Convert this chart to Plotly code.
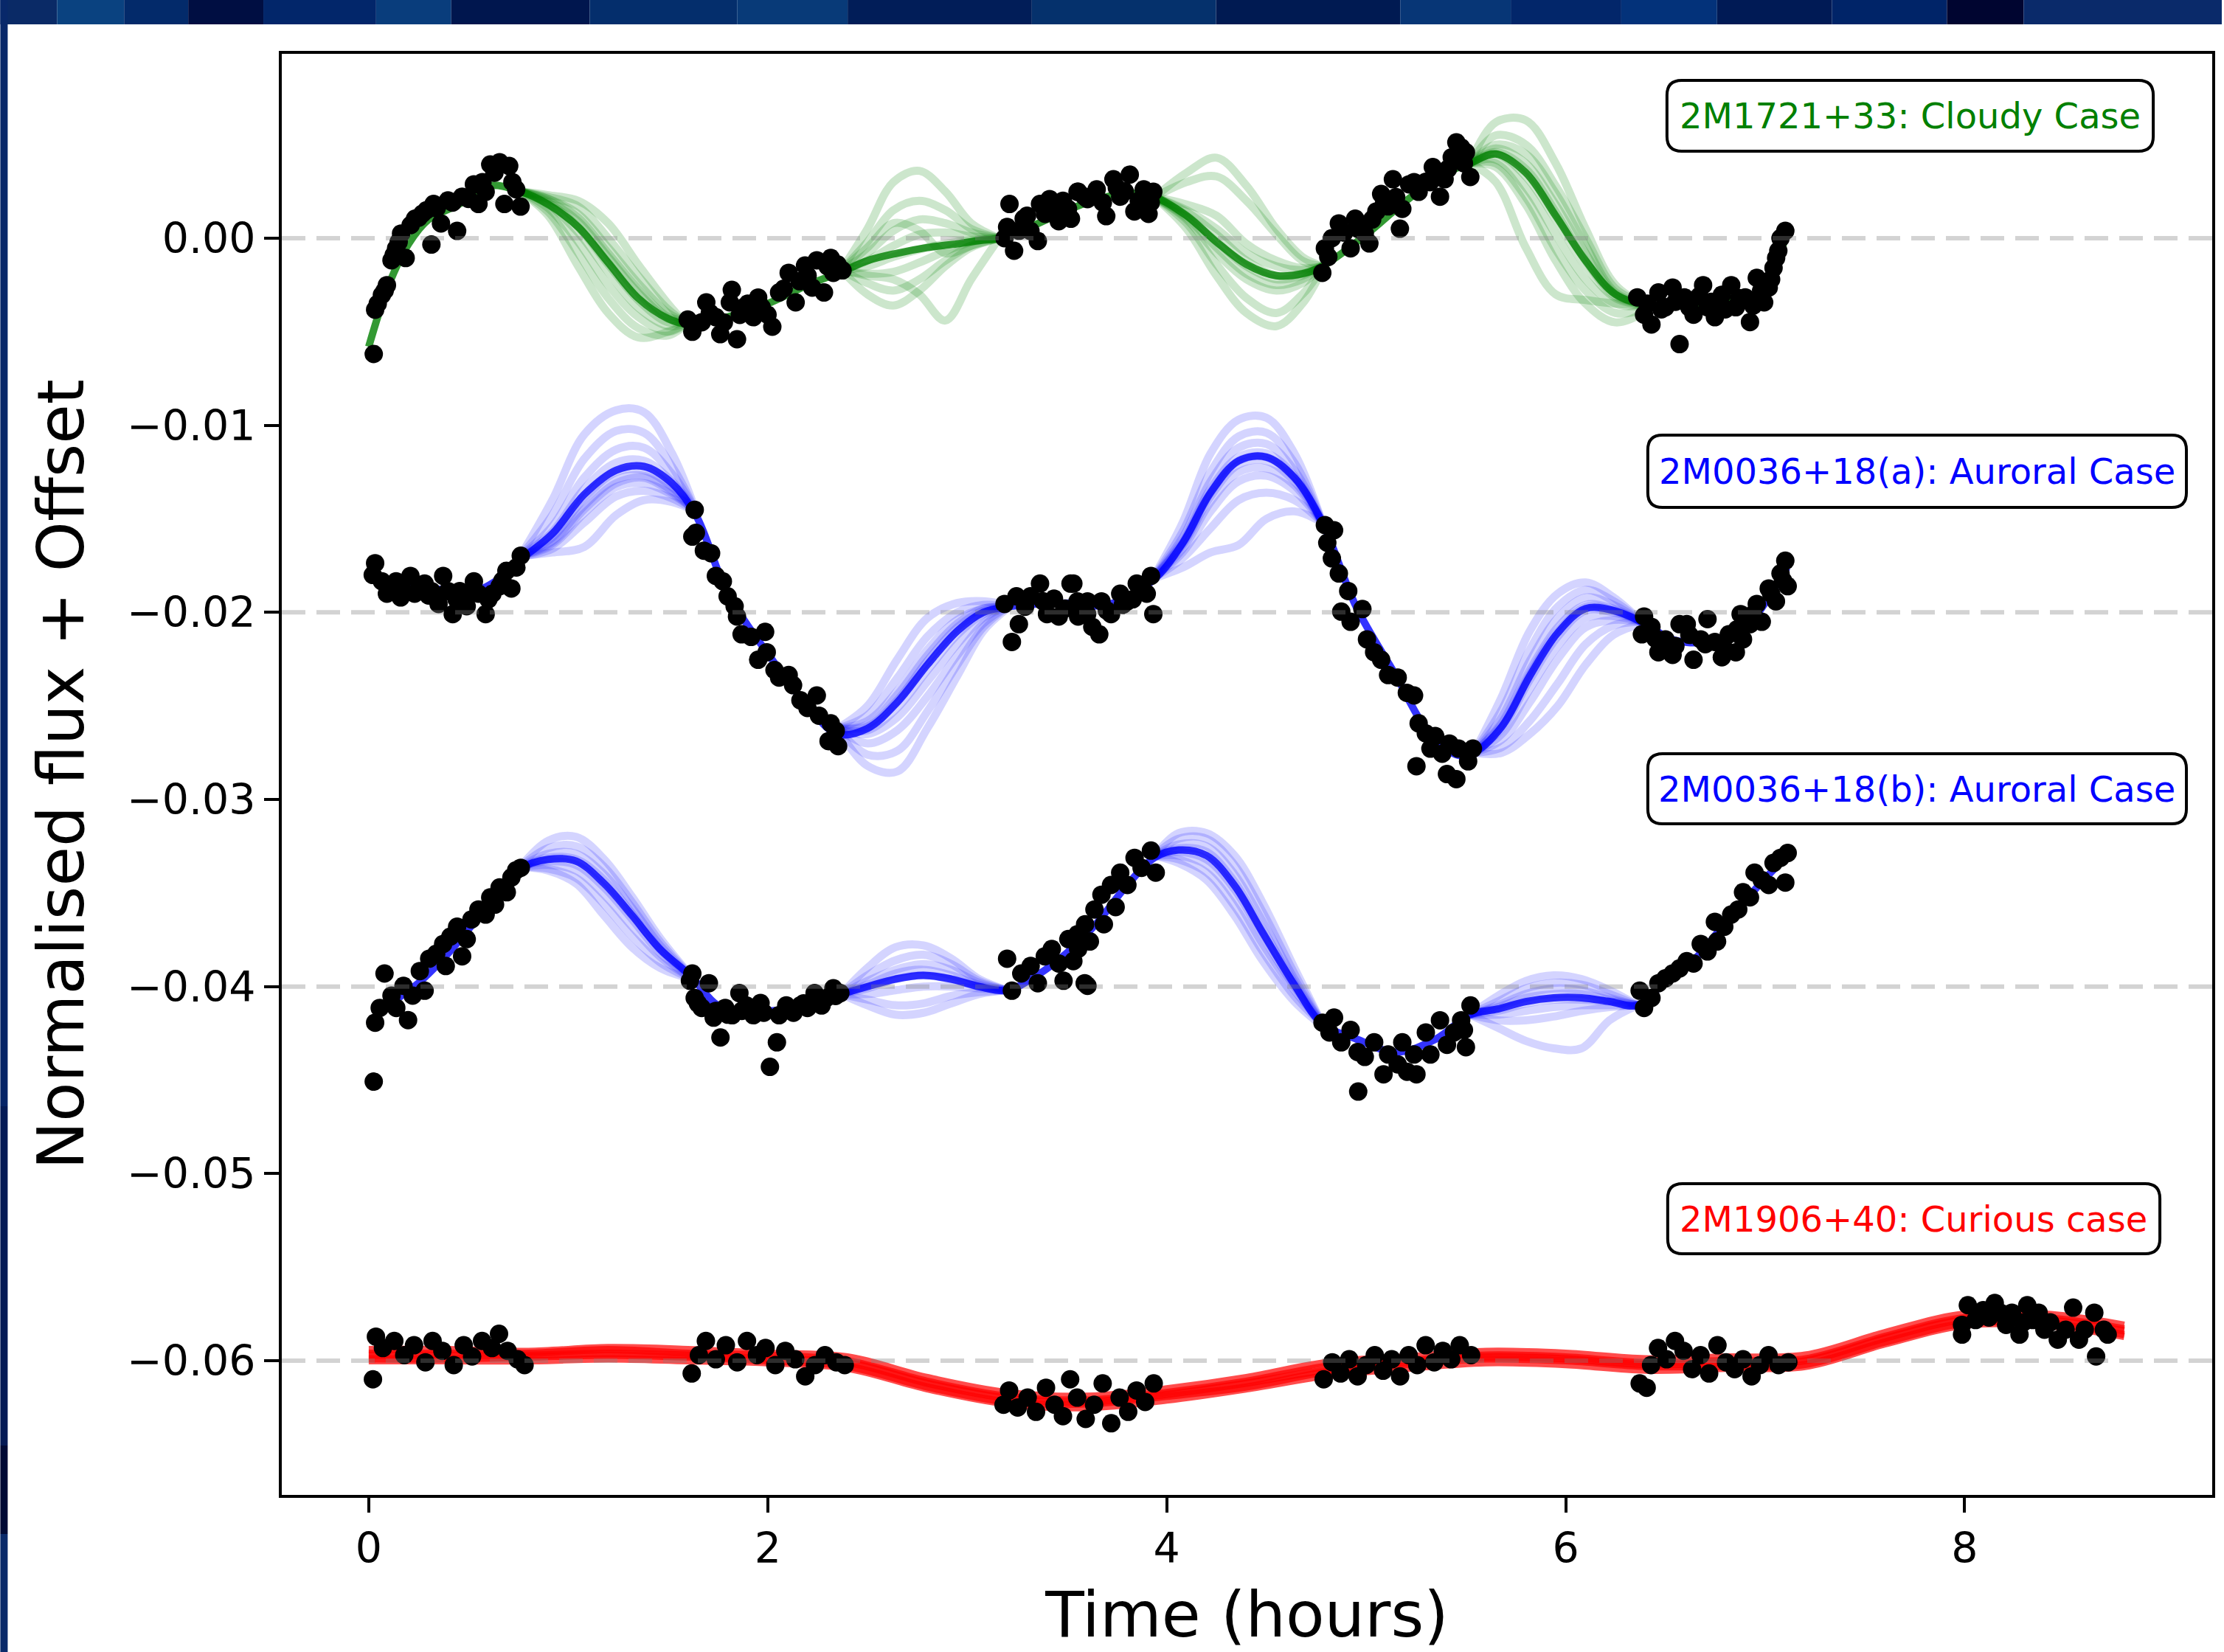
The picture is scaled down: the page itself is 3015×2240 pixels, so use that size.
import plotly.graph_objects as go

# ---------------------------------------------------------------- text / ticks
X_TICKS = [0, 2, 4, 6, 8]
X_TICKTEXT = ["0", "2", "4", "6", "8"]
Y_TICKS = [0.0, -0.01, -0.02, -0.03, -0.04, -0.05, -0.06]
Y_TICKTEXT = ["0.00", "\u22120.01", "\u22120.02", "\u22120.03", "\u22120.04", "\u22120.05", "\u22120.06"]
X_TITLE = "Time (hours)"
Y_TITLE = "Normalised flux + Offset"
OFFSETS = [0.0, -0.02, -0.04, -0.06]
LABELS = ["2M1721+33: Cloudy Case", "2M0036+18(a): Auroral Case",
          "2M0036+18(b): Auroral Case", "2M1906+40: Curious case"]

# ---------------------------------------------------------------- observed points
GREEN_T = [0.025, 0.032, 0.066, 0.091, 0.114, 0.137, 0.162, 0.185, 0.232, 0.268, 0.314, 0.325, 0.362, 0.397,
           0.443, 0.468, 0.527, 0.55, 0.586, 0.609, 0.656, 0.704, 0.68, 0.739, 0.761,
           0.045, 0.08, 0.125, 0.15, 0.21, 0.25, 0.29, 0.34, 0.42, 0.5, 0.57, 0.63, 0.72,
           1.599, 1.622, 1.669, 1.692, 1.74, 1.762, 1.81, 1.82, 1.846, 1.88, 1.928, 1.952, 1.999, 2.023, 2.057,
           2.105, 2.14, 2.187, 2.223, 2.246, 2.282, 2.316, 2.329, 2.375,
           1.64, 1.71, 1.78, 1.86, 1.9, 1.97, 2.08, 2.16, 2.2, 2.3, 2.35,
           3.187, 3.212, 3.235, 3.283, 3.317, 3.354, 3.365, 3.413, 3.459, 3.505, 3.553, 3.589, 3.52, 3.556,
           3.603, 3.649, 3.697, 3.733, 3.767, 3.815, 3.838, 3.885, 3.909, 3.933,
           3.2, 3.26, 3.3, 3.39, 3.44, 3.48, 3.62, 3.68, 3.75, 3.79, 3.86, 3.92,
           4.78, 4.793, 4.828, 4.863, 4.922, 4.945, 4.993, 5.016, 5.051, 5.075, 5.11, 5.134, 5.169, 5.181,
           5.215, 5.263, 5.299, 5.334, 5.37, 5.393, 5.429, 5.452, 5.476, 5.5, 5.522,
           4.81, 4.89, 4.96, 5.03, 5.09, 5.15, 5.24, 5.32, 5.41, 5.49,
           6.359, 6.393, 6.43, 6.465, 6.5, 6.536, 6.571, 6.595, 6.641, 6.689, 6.711, 6.748, 6.783, 6.83,
           6.853, 6.9, 6.924, 6.958, 6.995, 7.018, 7.042, 7.066, 7.077, 7.101, 7.055,
           6.41, 6.48, 6.55, 6.62, 6.67, 6.73, 6.8, 6.87, 6.94, 6.98, 7.03]
GREEN_F = [-0.00619, -0.00382, -0.00303, -0.00251, -0.00118, -0.00055, 0.00025, -0.00106, 0.00104, 0.0013,
           -0.00034, 0.00183, 0.00079, 0.00202, 0.00039, 0.00222, 0.00288, 0.00183, 0.00248, 0.00394, 0.00406,
           0.00386, 0.00183, 0.00261, 0.00169,
           -0.0035, -0.0028, -0.0009, -0.0002, 0.0007, 0.0011, 0.0015, 0.0016, 0.0019, 0.0021, 0.0030, 0.0035, 0.0030,
           -0.00435, -0.005, -0.00449, -0.00343, -0.00422, -0.00513, -0.00343, -0.00276, -0.0054, -0.00369,
           -0.00422, -0.00317, -0.00409, -0.00473, -0.0029, -0.00185, -0.00343, -0.00146, -0.00264, -0.00118,
           -0.0029, -0.00106, -0.00185, -0.00172,
           -0.0046, -0.0040, -0.0045, -0.0041, -0.0035, -0.0037, -0.0027, -0.0023, -0.0020, -0.0015, -0.0014,
           0.0, 0.00183, -0.00067, 0.00104, 0.00039, -0.00015, 0.00183, 0.00209, 0.00091, 0.00157, 0.00248,
           0.00222, 0.00104, 0.00248, 0.00209, 0.00261, 0.00118, 0.00315, 0.00222, 0.0034, 0.00143, 0.00261,
           0.0013, 0.00248,
           0.0006, 0.0004, 0.0012, 0.0013, 0.0017, 0.0020, 0.0022, 0.0019, 0.0027, 0.0025, 0.0020, 0.0019,
           -0.00185, -0.00054, 0.0, 0.00079, -0.00054, 0.00104, 0.00025, -0.00028, 0.00143, 0.00236, 0.0017,
           0.00315, 0.00051, 0.00157, 0.00288, 0.00248, 0.00301, 0.0038, 0.00222, 0.00315, 0.00433, 0.00512,
           0.00485, 0.00459, 0.00327,
           -0.0010, 0.0003, 0.0005, 0.0010, 0.0019, 0.0022, 0.0030, 0.0030, 0.0037, 0.0040,
           -0.00316, -0.00409, -0.00461, -0.0029, -0.00369, -0.00264, -0.00566, -0.00316, -0.00409, -0.00251,
           -0.00369, -0.00422, -0.00303, -0.00251, -0.00369, -0.00316, -0.00448, -0.00212, -0.00343, -0.00264,
           -0.00159, -0.00067, 0.0, 0.00039, -0.00106,
           -0.0035, -0.0038, -0.0034, -0.0037, -0.0031, -0.0034, -0.0038, -0.0032, -0.0036, -0.0028, -0.0022]

BLUEA_T = [0.032, 0.066, 0.091, 0.137, 0.174, 0.209, 0.244, 0.28, 0.314, 0.35, 0.373, 0.397, 0.421, 0.456,
           0.491, 0.527, 0.55, 0.586, 0.62, 0.656, 0.69, 0.715, 0.762,
           0.02, 0.11, 0.16, 0.23, 0.3, 0.44, 0.51, 0.6, 0.67, 0.74,
           1.634, 1.64, 1.622, 1.68, 1.716, 1.74, 1.775, 1.799, 1.834, 1.846, 1.869, 1.917, 1.987, 1.952,
           1.995, 2.034, 2.057, 2.105, 2.127, 2.164, 2.199, 2.246, 2.257, 2.316, 2.305, 2.353, 2.341,
           3.187, 3.224, 3.247, 3.259, 3.317, 3.365, 3.4, 3.435, 3.459, 3.518, 3.553, 3.601, 3.532, 3.556,
           3.603, 3.627, 3.662, 3.673, 3.721, 3.767, 3.803, 3.85, 3.886, 3.921, 3.933,
           3.29, 3.38, 3.49, 3.58, 3.7, 3.78, 3.83, 3.9,
           4.793, 4.839, 4.805, 4.828, 4.863, 4.91, 4.875, 4.922, 4.981, 5.004, 5.04, 5.075, 5.11, 5.158,
           5.204, 5.24, 5.263, 5.299, 5.322, 5.346, 5.381, 5.252, 5.405, 5.452, 5.463, 5.511, 5.535, 5.417,
           6.393, 6.382, 6.43, 6.465, 6.5, 6.536, 6.571, 6.607, 6.641, 6.677, 6.711, 6.748, 6.783, 6.818,
           6.853, 6.889, 6.877, 6.924, 6.958, 6.983, 7.018, 7.054, 7.077, 7.113, 7.101,
           6.45, 6.55, 6.62, 6.7, 6.8, 6.86, 6.94, 7.03, 7.09]
BLUEA_F = [-0.01737, -0.01834, -0.019, -0.01834, -0.01886, -0.01805, -0.01886, -0.01846, -0.01886, -0.01955,
           -0.01805, -0.01886, -0.02009, -0.01886, -0.01967, -0.01834, -0.019, -0.02009, -0.019, -0.0186,
           -0.01778, -0.01872, -0.01697,
           -0.0180, -0.0187, -0.0192, -0.0190, -0.0191, -0.0193, -0.0190, -0.0193, -0.0183, -0.0176,
           -0.01452, -0.01575, -0.01595, -0.0167, -0.01684, -0.01805, -0.01834, -0.01914, -0.01967, -0.02022,
           -0.02117, -0.02131, -0.02104, -0.02253, -0.02213, -0.02308, -0.02348, -0.02335, -0.02389, -0.0247,
           -0.02511, -0.02444, -0.02552, -0.02593, -0.02688, -0.02715, -0.02633,
           -0.01955, -0.02158, -0.01914, -0.02063, -0.01914, -0.01846, -0.02009, -0.01927, -0.02022, -0.01846,
           -0.01941, -0.02009, -0.01846, -0.02022, -0.01941, -0.02077, -0.02117, -0.01941, -0.02009, -0.019,
           -0.01941, -0.01846, -0.01886, -0.01805, -0.02009,
           -0.0197, -0.0194, -0.0198, -0.0196, -0.0199, -0.0196, -0.0193, -0.0190,
           -0.01533, -0.01561, -0.01628, -0.01711, -0.01792, -0.01886, -0.01996, -0.0205, -0.01982, -0.02144,
           -0.02213, -0.02253, -0.02335, -0.02348, -0.0243, -0.02444, -0.02593, -0.02647, -0.02728, -0.02661,
           -0.02755, -0.02822, -0.02864, -0.02891, -0.02728, -0.02796, -0.02728, -0.02701,
           -0.02022, -0.02117, -0.02077, -0.02213, -0.02144, -0.02227, -0.02063, -0.02063, -0.02253, -0.02144,
           -0.02036, -0.02158, -0.0224, -0.02117, -0.02213, -0.02144, -0.02009, -0.02063, -0.01955, -0.0205,
           -0.01872, -0.01941, -0.01792, -0.0186, -0.01724,
           -0.0214, -0.0218, -0.0212, -0.0217, -0.0220, -0.0209, -0.0201, -0.0190, -0.0183]

BLUEB_T = [0.025, 0.032, 0.055, 0.079, 0.114, 0.138, 0.174, 0.197, 0.22, 0.256, 0.28, 0.303, 0.338, 0.386,
           0.373, 0.409, 0.443, 0.468, 0.491, 0.515, 0.55, 0.586, 0.609, 0.633, 0.656, 0.692, 0.715, 0.739, 0.762,
           1.622, 1.61, 1.634, 1.669, 1.705, 1.729, 1.763, 1.787, 1.822, 1.858, 1.893, 1.928, 1.964, 2.011,
           2.046, 2.057, 2.093, 2.129, 2.164, 2.199, 2.235, 2.27, 2.294, 2.329, 2.364,
           1.65, 1.74, 1.8, 1.87, 1.98, 2.11, 2.18, 2.25, 2.34,
           3.2, 3.224, 3.271, 3.318, 3.354, 3.389, 3.424, 3.459, 3.483, 3.507, 3.553, 3.589, 3.532, 3.556,
           3.603, 3.615, 3.591, 3.638, 3.685, 3.673, 3.721, 3.744, 3.767, 3.803, 3.839, 3.874, 3.921, 3.945,
           4.781, 4.816, 4.839, 4.875, 4.922, 4.957, 4.993, 5.04, 4.96, 5.087, 5.11, 5.158, 5.181, 5.205,
           5.252, 5.24, 5.299, 5.322, 5.37, 5.405, 5.44, 5.476, 5.5, 5.523, 5.49,
           6.371, 6.393, 6.43, 6.465, 6.5, 6.536, 6.571, 6.607, 6.641, 6.677, 6.711, 6.748, 6.759, 6.795,
           6.83, 6.865, 6.889, 6.924, 6.947, 6.983, 7.018, 7.042, 7.077, 7.101, 7.113]
BLUEB_F = [-0.04508, -0.04193, -0.04114, -0.0393, -0.04048, -0.04114, -0.03996, -0.04179, -0.04048, -0.03917,
           -0.04022, -0.03851, -0.03825, -0.0389, -0.03772, -0.03733, -0.0368, -0.03838, -0.03746, -0.03641,
           -0.03588, -0.03615, -0.03523, -0.03562, -0.0347, -0.03496, -0.03417, -0.03378, -0.03365,
           -0.0393, -0.03969, -0.04061, -0.04114, -0.03982, -0.04166, -0.04272, -0.04114, -0.04153, -0.04035,
           -0.04101, -0.04153, -0.04088, -0.04429, -0.04298, -0.04153, -0.04101, -0.0414, -0.04101, -0.04114,
           -0.04035, -0.04101, -0.04061, -0.04009, -0.04035,
           -0.0409, -0.0413, -0.0415, -0.0413, -0.0414, -0.0412, -0.0409, -0.0407, -0.0405,
           -0.03851, -0.04022, -0.0393, -0.0389, -0.03982, -0.03838, -0.03799, -0.03877, -0.03969, -0.03746,
           -0.0372, -0.03982, -0.03864, -0.03799, -0.03996, -0.03759, -0.03667, -0.03588, -0.03667, -0.03509,
           -0.03457, -0.03575, -0.03391, -0.03457, -0.03312, -0.03365, -0.03273, -0.03391,
           -0.04193, -0.04245, -0.04166, -0.04298, -0.04232, -0.0435, -0.04376, -0.04298, -0.04561, -0.04469,
           -0.04363, -0.04416, -0.04298, -0.04455, -0.04469, -0.04363, -0.04245, -0.04363, -0.0418, -0.04311,
           -0.04245, -0.0418, -0.04324, -0.04101, -0.04232,
           -0.04022, -0.04114, -0.04061, -0.03982, -0.03956, -0.0393, -0.03903, -0.03864, -0.03877, -0.03772,
           -0.03812, -0.03654, -0.03759, -0.0368, -0.03615, -0.03588, -0.03496, -0.03523, -0.03391, -0.0343,
           -0.03457, -0.03339, -0.03312, -0.03444, -0.03286]

RED_T = [0.021, 0.036, 0.071, 0.128, 0.178, 0.227, 0.284, 0.32, 0.369, 0.426, 0.476, 0.518, 0.568, 0.618,
         0.653, 0.696, 0.746, 0.781,
         1.619, 1.655, 1.69, 1.74, 1.79, 1.847, 1.896, 1.946, 1.989, 2.038, 2.088, 2.138, 2.188, 2.237,
         2.287, 2.344, 2.386,
         3.182, 3.21, 3.253, 3.303, 3.345, 3.395, 3.438, 3.48, 3.516, 3.551, 3.594, 3.636, 3.679, 3.722,
         3.764, 3.807, 3.849, 3.892, 3.935,
         4.787, 4.83, 4.872, 4.915, 4.957, 5.0, 5.043, 5.085, 5.128, 5.17, 5.213, 5.256, 5.298, 5.341,
         5.384, 5.426, 5.469, 5.526,
         6.371, 6.406, 6.428, 6.463, 6.506, 6.548, 6.591, 6.634, 6.676, 6.719, 6.761, 6.804, 6.847, 6.889,
         6.932, 6.974, 7.017, 7.067, 7.116,
         7.987, 8.016, 7.987, 8.055, 8.093, 8.122, 8.151, 8.179, 8.208, 8.237, 8.275, 8.314, 8.342, 8.371,
         8.4, 8.429, 8.467, 8.506, 8.544, 8.573, 8.602, 8.65, 8.659, 8.698, 8.717, 8.294]
RED_F = [-0.06099, -0.05871, -0.05932, -0.05894, -0.0597, -0.05917, -0.06008, -0.05894, -0.05947, -0.06023,
         -0.05917, -0.05977, -0.05894, -0.05932, -0.05856, -0.05947, -0.05992, -0.06023,
         -0.06068, -0.0597, -0.05894, -0.05992, -0.05917, -0.06008, -0.05894, -0.0597, -0.05932, -0.06023,
         -0.05947, -0.05992, -0.06083, -0.06023, -0.0597, -0.06008, -0.06023,
         -0.06235, -0.06159, -0.0625, -0.06197, -0.06273, -0.06144, -0.06235, -0.06296, -0.06099, -0.06197,
         -0.06311, -0.06235, -0.06121, -0.06334, -0.06197, -0.06273, -0.06159, -0.0622, -0.06121,
         -0.06099, -0.06008, -0.06068, -0.05992, -0.06083, -0.06023, -0.0597, -0.06053, -0.05992, -0.06083,
         -0.0597, -0.06023, -0.05917, -0.06008, -0.05947, -0.05992, -0.05917, -0.0597,
         -0.06121, -0.06144, -0.06023, -0.05932, -0.05992, -0.05894, -0.05947, -0.06045, -0.0597, -0.06068,
         -0.05917, -0.06008, -0.06045, -0.05992, -0.06083, -0.06023, -0.0597, -0.06023, -0.06008,
         -0.05808, -0.05703, -0.0586, -0.05782, -0.0573, -0.05769, -0.05691, -0.05743, -0.05808, -0.05743,
         -0.0586, -0.05703, -0.05782, -0.05743, -0.05834, -0.05795, -0.05887, -0.05834, -0.05716, -0.05887,
         -0.05834, -0.05743, -0.05977, -0.05834, -0.0586, -0.05795]

# ---------------------------------------------------------------- model trend through each light curve
GREEN_TREND_T = [0.0, 0.1, 0.2, 0.3, 0.45, 0.6, 0.76, 0.9, 1.05, 1.2, 1.35, 1.5, 1.6, 1.8, 2.0, 2.2, 2.37,
                 2.5, 2.65, 2.8, 2.95, 3.08, 3.18, 3.4, 3.6, 3.8, 3.94, 4.1, 4.25, 4.4, 4.55, 4.68, 4.78,
                 5.0, 5.2, 5.4, 5.52, 5.65, 5.8, 5.95, 6.1, 6.25, 6.42, 6.6, 6.8, 6.95, 7.05, 7.1]
GREEN_TREND_F = [-0.0058, -0.0025, -0.0003, 0.0010, 0.0018, 0.0028, 0.0025, 0.0018, 0.0006, -0.0013, -0.0032,
                 -0.0043, -0.0046, -0.0042, -0.0035, -0.0025, -0.0018, -0.0012, -0.0008, -0.0005, -0.0003,
                 -0.0001, 0.0, 0.0010, 0.0019, 0.0024, 0.0022, 0.0012, -0.0002, -0.0014, -0.0020, -0.0019,
                 -0.0015, 0.0002, 0.0020, 0.0035, 0.0040, 0.0045, 0.0035, 0.0012, -0.0012, -0.0030, -0.0036,
                 -0.0036, -0.0034, -0.0030, -0.0015, 0.0]
BLUEA_TREND_T = [0.0, 0.2, 0.4, 0.55, 0.68, 0.76, 0.92, 1.08, 1.24, 1.38, 1.52, 1.64, 1.8, 2.0, 2.2, 2.35,
                 2.5, 2.65, 2.8, 2.95, 3.08, 3.2, 3.5, 3.7, 3.93, 4.08, 4.22, 4.36, 4.5, 4.64, 4.78, 4.95,
                 5.15, 5.3, 5.45, 5.54, 5.68, 5.82, 5.96, 6.1, 6.24, 6.38, 6.55, 6.75, 6.9, 7.0, 7.11]
BLUEA_TREND_F = [-0.0182, -0.0186, -0.0188, -0.0188, -0.0180, -0.0172, -0.0158, -0.0137, -0.0124, -0.0122,
                 -0.0131, -0.0148, -0.0190, -0.0222, -0.0250, -0.0265, -0.0262, -0.0248, -0.0228, -0.0210,
                 -0.0200, -0.0197, -0.0195, -0.0196, -0.0183, -0.0163, -0.0136, -0.0119, -0.0117, -0.0128,
                 -0.0152, -0.0197, -0.0234, -0.0262, -0.0276, -0.0275, -0.0261, -0.0234, -0.0211, -0.0198,
                 -0.0199, -0.0205, -0.0215, -0.0215, -0.0208, -0.0195, -0.0176]
BLUEB_TREND_T = [0.0, 0.1, 0.25, 0.4, 0.55, 0.7, 0.76, 0.9, 1.04, 1.18, 1.32, 1.46, 1.62, 1.75, 1.9, 2.1,
                 2.25, 2.37, 2.5, 2.64, 2.78, 2.92, 3.06, 3.2, 3.35, 3.5, 3.65, 3.8, 3.94, 4.06, 4.2, 4.34,
                 4.48, 4.64, 4.78, 4.95, 5.15, 5.35, 5.52, 5.66, 5.8, 5.94, 6.08, 6.22, 6.36, 6.5, 6.65,
                 6.8, 6.95, 7.11]
BLUEB_TREND_F = [-0.0420, -0.0410, -0.0398, -0.0382, -0.0363, -0.0345, -0.0337, -0.0332, -0.0333, -0.0345,
                 -0.0362, -0.0380, -0.0395, -0.0410, -0.0413, -0.0412, -0.0408, -0.0404, -0.0400, -0.0396,
                 -0.0394, -0.0396, -0.0400, -0.0402, -0.0394, -0.0382, -0.0366, -0.0346, -0.0331, -0.0327,
                 -0.0330, -0.0346, -0.0371, -0.0399, -0.0420, -0.0428, -0.0435, -0.0428, -0.0415, -0.0412,
                 -0.0408, -0.0406, -0.0406, -0.0408, -0.0410, -0.0397, -0.0385, -0.0366, -0.0348, -0.0330]

# ---------------------------------------------------------------- model samples inside the gaps
GREEN_GAP1_T = [0.76, 0.9, 1.05, 1.2, 1.35, 1.5, 1.6]
GREEN_GAP1_S = [[0.0025, 0.0012, -0.0015, -0.0040, -0.0053, -0.0050, -0.0045],
                [0.0025, 0.0014, -0.0008, -0.0032, -0.0048, -0.0052, -0.0045],
                [0.0025, 0.0016, -0.0002, -0.0025, -0.0042, -0.0050, -0.0045],
                [0.0025, 0.0018, 0.0003, -0.0018, -0.0037, -0.0047, -0.0045],
                [0.0025, 0.0019, 0.0006, -0.0014, -0.0033, -0.0045, -0.0045],
                [0.0025, 0.0020, 0.0009, -0.0010, -0.0029, -0.0043, -0.0045],
                [0.0025, 0.0021, 0.0013, -0.0005, -0.0024, -0.0040, -0.0045],
                [0.0025, 0.0022, 0.0017, 0.0000, -0.0020, -0.0038, -0.0046],
                [0.0025, 0.0023, 0.0020, 0.0008, -0.0014, -0.0035, -0.0047],
                [0.0025, 0.0021, 0.0011, -0.0008, -0.0027, -0.0042, -0.0044]]
GREEN_GAP2_T = [2.37, 2.5, 2.63, 2.76, 2.89, 3.02, 3.16]
GREEN_GAP2_S = [[-0.0017, 0.0005, 0.0030, 0.0036, 0.0025, 0.0008, 0.0],
                [-0.0017, -0.0002, 0.0015, 0.0020, 0.0015, 0.0005, 0.0],
                [-0.0017, -0.0008, 0.0004, 0.0010, 0.0008, 0.0003, 0.0],
                [-0.0017, -0.0012, -0.0004, 0.0002, 0.0003, 0.0001, 0.0],
                [-0.0017, -0.0015, -0.0010, -0.0006, -0.0003, -0.0001, 0.0],
                [-0.0017, -0.0019, -0.0018, -0.0013, -0.0007, -0.0002, 0.0],
                [-0.0017, -0.0024, -0.0028, -0.0022, -0.0012, -0.0004, 0.0],
                [-0.0017, -0.0020, -0.0022, -0.0030, -0.0044, -0.0022, 0.0],
                [-0.0017, -0.0030, -0.0036, -0.0028, -0.0015, -0.0005, 0.0],
                [-0.0017, -0.0005, 0.0008, 0.0004, -0.0008, -0.0004, 0.0]]
GREEN_GAP3_T = [3.94, 4.1, 4.25, 4.4, 4.55, 4.68, 4.78]
GREEN_GAP3_S = [[0.0022, 0.0035, 0.0043, 0.0028, 0.0005, -0.0010, -0.0015],
                [0.0022, 0.0030, 0.0033, 0.0020, 0.0002, -0.0012, -0.0015],
                [0.0022, 0.0015, 0.0005, -0.0008, -0.0015, -0.0017, -0.0015],
                [0.0022, 0.0012, -0.0002, -0.0015, -0.0022, -0.0020, -0.0015],
                [0.0022, 0.0010, -0.0008, -0.0022, -0.0028, -0.0024, -0.0015],
                [0.0022, 0.0008, -0.0014, -0.0032, -0.0040, -0.0030, -0.0016],
                [0.0022, 0.0005, -0.0020, -0.0040, -0.0047, -0.0035, -0.0017],
                [0.0022, 0.0014, 0.0002, -0.0012, -0.0020, -0.0019, -0.0015],
                [0.0022, 0.0018, 0.0012, -0.0003, -0.0012, -0.0016, -0.0015],
                [0.0022, 0.0011, -0.0005, -0.0019, -0.0025, -0.0022, -0.0015]]
GREEN_GAP4_T = [5.52, 5.65, 5.8, 5.95, 6.1, 6.25, 6.42]
GREEN_GAP4_S = [[0.0040, 0.0030, -0.0005, -0.0030, -0.0033, -0.0035, -0.0036],
                [0.0040, 0.0062, 0.0063, 0.0040, 0.0005, -0.0025, -0.0037],
                [0.0040, 0.0055, 0.0050, 0.0028, 0.0000, -0.0027, -0.0036],
                [0.0040, 0.0048, 0.0040, 0.0018, -0.0008, -0.0030, -0.0036],
                [0.0040, 0.0045, 0.0033, 0.0010, -0.0015, -0.0032, -0.0036],
                [0.0040, 0.0042, 0.0027, 0.0002, -0.0022, -0.0035, -0.0036],
                [0.0040, 0.0040, 0.0022, -0.0006, -0.0028, -0.0040, -0.0037],
                [0.0040, 0.0050, 0.0045, 0.0024, -0.0004, -0.0029, -0.0036],
                [0.0040, 0.0038, 0.0018, -0.0012, -0.0035, -0.0045, -0.0038],
                [0.0040, 0.0046, 0.0037, 0.0014, -0.0012, -0.0031, -0.0036]]

BLUEA_GAP1_T = [0.76, 0.92, 1.08, 1.24, 1.38, 1.52, 1.64]
BLUEA_GAP1_S = [[-0.0170, -0.0140, -0.0105, -0.0092, -0.0093, -0.0115, -0.0146],
                [-0.0170, -0.0148, -0.0118, -0.0103, -0.0104, -0.0122, -0.0146],
                [-0.0170, -0.0154, -0.0128, -0.0113, -0.0112, -0.0126, -0.0146],
                [-0.0170, -0.0157, -0.0134, -0.0120, -0.0119, -0.0130, -0.0146],
                [-0.0170, -0.0160, -0.0139, -0.0125, -0.0124, -0.0133, -0.0146],
                [-0.0170, -0.0162, -0.0143, -0.0129, -0.0127, -0.0135, -0.0146],
                [-0.0170, -0.0164, -0.0147, -0.0133, -0.0131, -0.0137, -0.0146],
                [-0.0170, -0.0166, -0.0152, -0.0138, -0.0135, -0.0139, -0.0146],
                [-0.0170, -0.0168, -0.0165, -0.0148, -0.0140, -0.0141, -0.0146],
                [-0.0170, -0.0163, -0.0145, -0.0131, -0.0128, -0.0136, -0.0146]]
BLUEA_GAP2_T = [2.35, 2.5, 2.65, 2.8, 2.95, 3.08, 3.2]
BLUEA_GAP2_S = [[-0.0262, -0.0250, -0.0225, -0.0203, -0.0195, -0.0194, -0.0196],
                [-0.0262, -0.0255, -0.0235, -0.0213, -0.0200, -0.0196, -0.0197],
                [-0.0262, -0.0258, -0.0242, -0.0220, -0.0204, -0.0198, -0.0197],
                [-0.0262, -0.0261, -0.0247, -0.0226, -0.0208, -0.0199, -0.0197],
                [-0.0262, -0.0263, -0.0251, -0.0231, -0.0212, -0.0201, -0.0197],
                [-0.0262, -0.0265, -0.0256, -0.0237, -0.0217, -0.0203, -0.0197],
                [-0.0262, -0.0270, -0.0263, -0.0245, -0.0223, -0.0206, -0.0197],
                [-0.0262, -0.0282, -0.0285, -0.0262, -0.0234, -0.0210, -0.0198],
                [-0.0262, -0.0276, -0.0274, -0.0253, -0.0228, -0.0208, -0.0197],
                [-0.0262, -0.0260, -0.0244, -0.0223, -0.0206, -0.0198, -0.0197]]
BLUEA_GAP3_T = [3.93, 4.08, 4.22, 4.36, 4.5, 4.64, 4.78]
BLUEA_GAP3_S = [[-0.0182, -0.0152, -0.0115, -0.0097, -0.0096, -0.0115, -0.0152],
                [-0.0182, -0.0157, -0.0125, -0.0106, -0.0104, -0.0120, -0.0152],
                [-0.0182, -0.0160, -0.0130, -0.0112, -0.0110, -0.0124, -0.0152],
                [-0.0182, -0.0162, -0.0134, -0.0117, -0.0115, -0.0127, -0.0152],
                [-0.0182, -0.0164, -0.0138, -0.0121, -0.0119, -0.0130, -0.0152],
                [-0.0182, -0.0166, -0.0141, -0.0125, -0.0123, -0.0132, -0.0152],
                [-0.0182, -0.0168, -0.0146, -0.0130, -0.0127, -0.0135, -0.0152],
                [-0.0182, -0.0171, -0.0155, -0.0140, -0.0136, -0.0140, -0.0152],
                [-0.0182, -0.0176, -0.0168, -0.0164, -0.0150, -0.0146, -0.0152],
                [-0.0182, -0.0163, -0.0136, -0.0119, -0.0117, -0.0128, -0.0152]]
BLUEA_GAP4_T = [5.54, 5.68, 5.82, 5.96, 6.1, 6.24, 6.38]
BLUEA_GAP4_S = [[-0.0275, -0.0245, -0.0210, -0.0190, -0.0184, -0.0192, -0.0205],
                [-0.0275, -0.0252, -0.0220, -0.0197, -0.0188, -0.0194, -0.0205],
                [-0.0275, -0.0256, -0.0226, -0.0203, -0.0192, -0.0196, -0.0205],
                [-0.0275, -0.0259, -0.0231, -0.0208, -0.0196, -0.0198, -0.0205],
                [-0.0275, -0.0262, -0.0236, -0.0213, -0.0199, -0.0200, -0.0205],
                [-0.0275, -0.0265, -0.0241, -0.0218, -0.0203, -0.0202, -0.0205],
                [-0.0275, -0.0268, -0.0248, -0.0225, -0.0208, -0.0204, -0.0205],
                [-0.0275, -0.0272, -0.0258, -0.0238, -0.0217, -0.0207, -0.0205],
                [-0.0275, -0.0275, -0.0265, -0.0250, -0.0228, -0.0212, -0.0206],
                [-0.0275, -0.0260, -0.0233, -0.0210, -0.0197, -0.0199, -0.0205]]

BLUEB_GAP1_T = [0.76, 0.9, 1.04, 1.18, 1.32, 1.46, 1.62]
BLUEB_GAP1_S = [[-0.0336, -0.0322, -0.0320, -0.0332, -0.0352, -0.0374, -0.0395],
                [-0.0336, -0.0326, -0.0325, -0.0336, -0.0355, -0.0376, -0.0395],
                [-0.0336, -0.0329, -0.0329, -0.0340, -0.0358, -0.0378, -0.0395],
                [-0.0336, -0.0331, -0.0332, -0.0343, -0.0361, -0.0380, -0.0395],
                [-0.0336, -0.0333, -0.0335, -0.0347, -0.0364, -0.0382, -0.0396],
                [-0.0336, -0.0335, -0.0338, -0.0351, -0.0368, -0.0384, -0.0396],
                [-0.0336, -0.0337, -0.0342, -0.0356, -0.0373, -0.0387, -0.0396],
                [-0.0336, -0.0338, -0.0345, -0.0362, -0.0379, -0.0390, -0.0396]]
BLUEB_GAP2_T = [2.37, 2.5, 2.64, 2.78, 2.92, 3.06, 3.2]
BLUEB_GAP2_S = [[-0.0404, -0.0390, -0.0379, -0.0378, -0.0385, -0.0396, -0.0402],
                [-0.0404, -0.0394, -0.0386, -0.0383, -0.0388, -0.0397, -0.0402],
                [-0.0404, -0.0397, -0.0391, -0.0388, -0.0391, -0.0398, -0.0402],
                [-0.0404, -0.0399, -0.0393, -0.0391, -0.0394, -0.0399, -0.0402],
                [-0.0404, -0.0401, -0.0396, -0.0394, -0.0396, -0.0400, -0.0402],
                [-0.0404, -0.0404, -0.0402, -0.0400, -0.0400, -0.0401, -0.0402],
                [-0.0404, -0.0407, -0.0410, -0.0409, -0.0405, -0.0403, -0.0402],
                [-0.0404, -0.0410, -0.0415, -0.0414, -0.0409, -0.0404, -0.0402]]
BLUEB_GAP3_T = [3.94, 4.06, 4.2, 4.34, 4.48, 4.64, 4.78]
BLUEB_GAP3_S = [[-0.0330, -0.0318, -0.0318, -0.0330, -0.0355, -0.0390, -0.0420],
                [-0.0330, -0.0321, -0.0321, -0.0335, -0.0360, -0.0393, -0.0420],
                [-0.0330, -0.0324, -0.0325, -0.0340, -0.0365, -0.0396, -0.0420],
                [-0.0330, -0.0326, -0.0328, -0.0344, -0.0369, -0.0398, -0.0420],
                [-0.0330, -0.0328, -0.0332, -0.0348, -0.0373, -0.0400, -0.0420],
                [-0.0330, -0.0330, -0.0335, -0.0352, -0.0377, -0.0402, -0.0420],
                [-0.0330, -0.0332, -0.0339, -0.0357, -0.0381, -0.0405, -0.0420],
                [-0.0330, -0.0334, -0.0343, -0.0362, -0.0386, -0.0408, -0.0421]]
BLUEB_GAP4_T = [5.52, 5.66, 5.8, 5.94, 6.08, 6.22, 6.36]
BLUEB_GAP4_S = [[-0.0415, -0.0405, -0.0397, -0.0394, -0.0396, -0.0402, -0.0410],
                [-0.0415, -0.0408, -0.0401, -0.0398, -0.0399, -0.0404, -0.0410],
                [-0.0415, -0.0410, -0.0404, -0.0401, -0.0402, -0.0406, -0.0410],
                [-0.0415, -0.0411, -0.0406, -0.0404, -0.0404, -0.0407, -0.0410],
                [-0.0415, -0.0413, -0.0409, -0.0407, -0.0407, -0.0408, -0.0410],
                [-0.0415, -0.0415, -0.0413, -0.0411, -0.0410, -0.0410, -0.0410],
                [-0.0415, -0.0418, -0.0418, -0.0416, -0.0413, -0.0411, -0.0410],
                [-0.0415, -0.0422, -0.0429, -0.0433, -0.0433, -0.0418, -0.0410]]

RED_MODEL_T = [0.0, 0.4, 0.8, 1.2, 1.6, 2.0, 2.4, 2.8, 3.2, 3.6, 4.0, 4.4, 4.8, 5.2, 5.6, 6.0, 6.4, 6.8,
               7.2, 7.6, 8.0, 8.4, 8.8]
RED_MODEL_S = [[-0.0594, -0.0594, -0.0595, -0.0593, -0.0594, -0.0596, -0.0598, -0.0609, -0.0617, -0.0619,
                -0.0615, -0.0609, -0.0601, -0.0598, -0.0595, -0.0596, -0.0599, -0.0598, -0.0597, -0.0585,
                -0.0575, -0.0575, -0.0581],
               [-0.0596, -0.0596, -0.0596, -0.0594, -0.0596, -0.0597, -0.0600, -0.0611, -0.0619, -0.0621,
                -0.0617, -0.0611, -0.0603, -0.0600, -0.0597, -0.0598, -0.0601, -0.0600, -0.0599, -0.0587,
                -0.0577, -0.0577, -0.0583],
               [-0.0597, -0.0597, -0.0597, -0.0596, -0.0597, -0.0599, -0.0601, -0.0612, -0.0620, -0.0622,
                -0.0618, -0.0612, -0.0605, -0.0601, -0.0598, -0.0599, -0.0602, -0.0601, -0.0600, -0.0588,
                -0.0578, -0.0578, -0.0584],
               [-0.0599, -0.0599, -0.0598, -0.0597, -0.0598, -0.0600, -0.0603, -0.0614, -0.0622, -0.0623,
                -0.0619, -0.0614, -0.0606, -0.0602, -0.0599, -0.0600, -0.0603, -0.0603, -0.0602, -0.0590,
                -0.0580, -0.0580, -0.0586],
               [-0.0600, -0.0600, -0.0600, -0.0599, -0.0600, -0.0601, -0.0604, -0.0615, -0.0623, -0.0625,
                -0.0621, -0.0615, -0.0608, -0.0604, -0.0601, -0.0602, -0.0605, -0.0604, -0.0603, -0.0591,
                -0.0581, -0.0581, -0.0587]]

# ---------------------------------------------------------------- styling
GREEN, BLUE, RED = "#008000", "#0000FF", "#FF0000"
FONT = "DejaVu Sans"
FIG_W, FIG_H = 3015, 2240
M_L, M_R, M_T, M_B = 382, 13, 73, 213
PLOT_W = FIG_W - M_L - M_R
PLOT_H = FIG_H - M_T - M_B
X_RANGE = [-0.436, 9.241]
Y_RANGE = [-0.06717, 0.009854]


def rgba(hex_color, a):
    h = hex_color.lstrip("#")
    return "rgba(%d,%d,%d,%.3f)" % (int(h[0:2], 16), int(h[2:4], 16), int(h[4:6], 16), a)


def px_x(p):
    return (p - M_L) / PLOT_W


def px_y(p):
    return (FIG_H - M_B - p) / PLOT_H


fig = go.Figure()


def add_lines(t, curves, color, alpha, width):
    for c in curves:
        fig.add_trace(go.Scatter(x=t, y=c, mode="lines",
                                 line=dict(color=rgba(color, alpha), width=width, shape="spline"),
                                 hoverinfo="skip", showlegend=False))


for gt, gs in [(GREEN_GAP1_T, GREEN_GAP1_S), (GREEN_GAP2_T, GREEN_GAP2_S),
               (GREEN_GAP3_T, GREEN_GAP3_S), (GREEN_GAP4_T, GREEN_GAP4_S)]:
    add_lines(gt, gs, GREEN, 0.2, 11)
for gt, gs in [(BLUEA_GAP1_T, BLUEA_GAP1_S), (BLUEA_GAP2_T, BLUEA_GAP2_S),
               (BLUEA_GAP3_T, BLUEA_GAP3_S), (BLUEA_GAP4_T, BLUEA_GAP4_S),
               (BLUEB_GAP1_T, BLUEB_GAP1_S), (BLUEB_GAP2_T, BLUEB_GAP2_S),
               (BLUEB_GAP3_T, BLUEB_GAP3_S), (BLUEB_GAP4_T, BLUEB_GAP4_S)]:
    add_lines(gt, gs, BLUE, 0.17, 11)

add_lines(GREEN_TREND_T, [GREEN_TREND_F], GREEN, 0.8, 10)
add_lines(BLUEA_TREND_T, [BLUEA_TREND_F], BLUE, 0.8, 10)
add_lines(BLUEB_TREND_T, [BLUEB_TREND_F], BLUE, 0.8, 10)
add_lines(RED_MODEL_T, RED_MODEL_S, RED, 0.7, 10)

for tt, ff in [(GREEN_T, GREEN_F), (BLUEA_T, BLUEA_F), (BLUEB_T, BLUEB_F), (RED_T, RED_F)]:
    fig.add_trace(go.Scatter(x=tt, y=ff, mode="markers",
                             marker=dict(color="black", size=25, line=dict(width=0)),
                             hoverinfo="skip", showlegend=False))

shapes = []
# dashed reference levels
for off in OFFSETS:
    shapes.append(dict(type="line", xref="paper", x0=0, x1=1, yref="y", y0=off, y1=off,
                       line=dict(color="rgba(128,128,128,0.35)", width=6, dash="32px,15px"),
                       layer="above"))

# rounded label boxes (pixel extents) and their labels
BOXES = [(2262, 109, 2922, 205), (2236, 590, 2967, 688), (2236, 1022, 2967, 1117), (2263, 1605, 2931, 1700)]
LABEL_COLORS = [GREEN, BLUE, BLUE, RED]
annotations = []
for (x0, y0, x1, y1), text, col in zip(BOXES, LABELS, LABEL_COLORS):
    r = 20
    pts = [("M", x0 + r, y0), ("L", x1 - r, y0), ("Q", x1, y0, x1, y0 + r), ("L", x1, y1 - r),
           ("Q", x1, y1, x1 - r, y1), ("L", x0 + r, y1), ("Q", x0, y1, x0, y1 - r), ("L", x0, y0 + r),
           ("Q", x0, y0, x0 + r, y0)]
    path = ""
    for p in pts:
        if p[0] == "Q":
            path += "Q%.5f,%.5f %.5f,%.5f " % (px_x(p[1]), px_y(p[2]), px_x(p[3]), px_y(p[4]))
        else:
            path += "%s%.5f,%.5f " % (p[0], px_x(p[1]), px_y(p[2]))
    path += "Z"
    shapes.append(dict(type="path", xref="paper", yref="paper", path=path, fillcolor="white",
                       line=dict(color="black", width=4), layer="above"))
    annotations.append(dict(xref="paper", yref="paper", x=px_x((x0 + x1) / 2), y=px_y((y0 + y1) / 2),
                            xanchor="center", yanchor="middle", text=text, showarrow=False,
                            font=dict(family=FONT, size=48, color=col)))

# navy slide background at the top and left edges
NAVY_TOP = [(0, 77, "#0a2a66"), (77, 168, "#0a4280"), (168, 255, "#032a6a"), (255, 357, "#000e42"),
            (357, 510, "#02266a"), (510, 612, "#093d7c"), (612, 800, "#00164e"), (800, 1000, "#042e6c"),
            (1000, 1150, "#083a78"), (1150, 1400, "#011d58"), (1400, 1650, "#05316c"), (1650, 1900, "#001a52"),
            (1900, 2050, "#073676"), (2050, 2200, "#02266a"), (2200, 2330, "#03327a"), (2330, 2486, "#001a55"),
            (2486, 2642, "#002468"), (2642, 2746, "#000530"), (2746, 3015, "#0a2a6a")]
for a, b, col in NAVY_TOP:
    shapes.append(dict(type="rect", xref="paper", yref="paper", x0=px_x(a), x1=px_x(b),
                       y0=px_y(33), y1=px_y(0), fillcolor=col, line=dict(width=0), layer="above"))
NAVY_LEFT = [(0, 800, "#08286a"), (800, 1500, "#062466"), (1500, 1960, "#041a55"),
             (1960, 2080, "#000a35"), (2080, 2240, "#0a2a6a")]
for a, b, col in NAVY_LEFT:
    shapes.append(dict(type="rect", xref="paper", yref="paper", x0=px_x(0), x1=px_x(10),
                       y0=px_y(b), y1=px_y(a), fillcolor=col, line=dict(width=0), layer="above"))

axis_common = dict(showline=True, linecolor="black", linewidth=4, mirror=True, ticks="outside",
                   ticklen=20, tickwidth=4, tickcolor="black", showgrid=False, zeroline=False,
                   tickfont=dict(family=FONT, size=57, color="black"))

fig.update_layout(
    width=FIG_W, height=FIG_H,
    margin=dict(l=M_L, r=M_R, t=M_T, b=M_B, pad=0),
    paper_bgcolor="white", plot_bgcolor="white",
    font=dict(family=FONT, color="black"),
    showlegend=False,
    xaxis=dict(range=X_RANGE, tickvals=X_TICKS, ticktext=X_TICKTEXT,
               title=dict(text=X_TITLE, font=dict(family=FONT, size=86, color="black"), standoff=28),
               **axis_common),
    yaxis=dict(range=Y_RANGE, tickvals=Y_TICKS, ticktext=Y_TICKTEXT,
               title=dict(text=Y_TITLE, font=dict(family=FONT, size=87, color="black"), standoff=30),
               **axis_common),
    shapes=shapes,
    annotations=annotations,
)

fig.write_html("out.html", include_plotlyjs=True, full_html=True,
               config={"displayModeBar": False},
               post_script="document.body.style.margin='0';document.body.style.overflow='hidden';")
